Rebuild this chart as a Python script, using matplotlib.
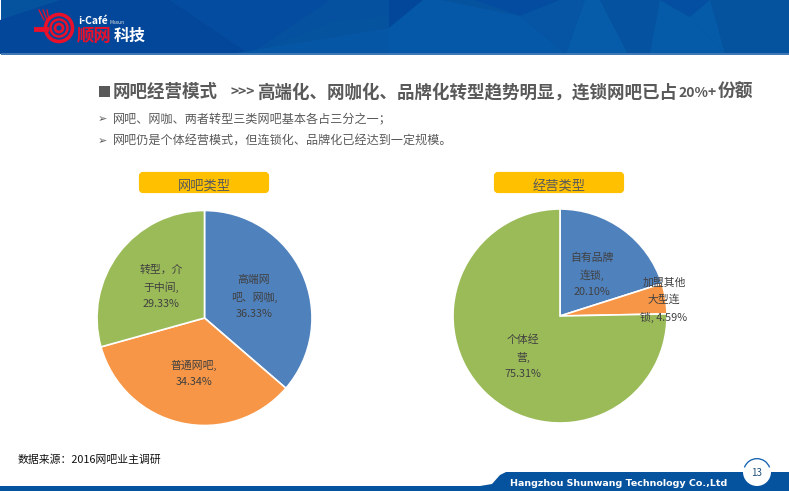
import matplotlib
matplotlib.use("Agg")
import matplotlib.pyplot as plt
from matplotlib.patches import Circle, FancyBboxPatch, Polygon, Rectangle, Wedge

plt.rcParams['font.family'] = ['Noto Sans CJK SC', 'DejaVu Sans']

W, H = 789, 491
BLUE = '#4f81bd'
ORANGE = '#f79646'
GREEN = '#9bbb59'
TEXT = '#404040'
HEADER = '#05529f'

# label, value, colour, label x/y in pixels
left_pie = [
    ("高端网\n吧、网咖,\n36.33%", 36.33, BLUE, 254, 297),
    ("普通网吧,\n34.34%", 34.34, ORANGE, 194, 373),
    ("转型，介\n于中间,\n29.33%", 29.33, GREEN, 161, 287),
]
right_pie = [
    ("自有品牌\n连锁,\n20.10%", 20.10, BLUE, 592, 275),
    ("加盟其他\n大型连\n锁, 4.59%", 4.59, ORANGE, 664, 300),
    ("个体经\n营,\n75.31%", 75.31, GREEN, 523, 357),
]

# header facets: outline in pixels, colour
facets = [
    ([(0, 54), (0, 20), (60, 0), (170, 0), (250, 54)], '#03479b'),
    ([(170, 0), (330, 0), (330, 22), (250, 54)], '#044c9f'),
    ([(250, 54), (330, 22), (400, 14), (420, 0), (330, 0)], '#05509f'),
    ([(230, 54), (330, 38), (389, 28), (389, 54)], '#0557a6'),
    ([(389, 28), (423, 0), (389, 0)], '#03479b'),
    ([(389, 28), (423, 0), (441, 0), (520, 16), (566, 54), (389, 54)], '#0558a7'),
    ([(475, 0), (520, 16), (560, 0)], '#044ca0'),
    ([(520, 16), (560, 0), (585, 0), (566, 54)], '#0555a4'),
    ([(566, 54), (585, 0), (600, 0), (628, 54)], '#065ca8'),
    ([(600, 0), (660, 0), (650, 54), (628, 54)], '#0552a1'),
    ([(650, 54), (660, 0), (690, 17), (725, 54)], '#065ba8'),
    ([(660, 0), (690, 17), (710, 0)], '#044fa1'),
    ([(690, 17), (710, 0), (725, 54)], '#065ba8'),
]


def drawPie(fig, rows, cx, cy, r):
    ax = fig.add_axes([(cx - r) / W, 1 - (cy + r) / H, 2 * r / W, 2 * r / H])
    ax.pie([row[1] for row in rows], colors=[row[2] for row in rows],
           startangle=90, counterclock=False, radius=1,
           wedgeprops={'edgecolor': 'white', 'linewidth': 1.2})
    ax.set_xlim(-1, 1)
    ax.set_ylim(-1, 1)
    ax.axis('off')
    for label, value, color, x, y in rows:
        bg.text(x, y, label, fontsize=7.8, color=TEXT, ha='center', va='center',
                linespacing=1.75, zorder=5)


fig = plt.figure(figsize=(W / 100, H / 100), dpi=100, facecolor='white')

# whole slide in pixel coordinates
bg = fig.add_axes([0, 0, 1, 1], zorder=3)
bg.set_xlim(0, W)
bg.set_ylim(H, 0)
bg.axis('off')
bg.patch.set_alpha(0)

# header band
bg.add_patch(Rectangle((1, 0), W, 54, color=HEADER, lw=0))
for points, color in facets:
    bg.add_patch(Polygon(points, color=color, lw=0))
bg.add_patch(Rectangle((1, 53), W, 1.5, color='#3f78b5', lw=0))

# logo
for rad, lw in [(13.5, 2.6), (8.5, 1.8), (4, 2)]:
    bg.add_patch(Circle((59, 28), rad, fill=False, ec='#e8102a', lw=lw))
bg.plot([36, 46], [29, 29], color='#e8102a', lw=3.5)
for x0, x1 in [(39, 44), (43, 47), (47, 49)]:
    bg.plot([x0, x1], [10, 20], color='#e8102a', lw=0.9)
bg.text(78, 21, "i-Café", fontsize=7.5, color='white', weight='bold', va='center')
bg.text(110, 22, "Maxun", fontsize=3.5, color='#dddddd', va='center')
bg.text(77, 36, "顺网", fontsize=12.5, color='#e8102a', weight='bold', va='center',
        family='Noto Sans CJK SC')
bg.text(114, 36, "科技", fontsize=11.5, color='white', weight='bold', va='center')

# title and bullets
bg.add_patch(Rectangle((99, 86), 11, 11, color='#595959', lw=0))
bg.text(113, 92, "网吧经营模式", fontsize=12.6, color='#595959', weight='bold', va='center')
bg.text(231, 93, ">>>", fontsize=10, color='#595959', weight='bold', va='center')
bg.text(257, 92, "高端化、网咖化、品牌化转型趋势明显，连锁网吧已占", fontsize=12.6,
        color='#595959', weight='bold', va='center')
bg.text(678, 93, "20%+", fontsize=10, color='#595959', weight='bold', va='center')
bg.text(718, 92, "份额", fontsize=12.8, color='#595959', weight='bold', va='center')
for y, line in [(119, "网吧、网咖、两者转型三类网吧基本各占三分之一；"),
                (141, "网吧仍是个体经营模式，但连锁化、品牌化已经达到一定规模。")]:
    bg.text(98, y, "➢", fontsize=8, color='#595959', va='center', family='DejaVu Sans')
    bg.text(113, y, line, fontsize=8.7, color='#595959', va='center')

# yellow tags
for x, y, label, ty in [(139, 172, "网吧类型", 186), (494, 172, "经营类型", 187)]:
    bg.add_patch(FancyBboxPatch((x + 2, y + 2), 126, 17,
                                boxstyle="round,pad=0,rounding_size=2", mutation_aspect=1,
                                fc='#ffc000', ec='#ffc000', lw=3))
    bg.text(x + 65, ty, label, fontsize=9.5, color='#595959', ha='center', va='center')

drawPie(fig, left_pie, 204.5, 318, 107.5)
drawPie(fig, right_pie, 560, 316, 107)

# footer
bg.text(18, 460, "数据来源：2016网吧业主调研", fontsize=7.8, color='#111111', va='center')
bg.add_patch(Rectangle((0, 486), W, 5, color=HEADER, lw=0))
bg.add_patch(Polygon([(480, 486), (492, 484), (500, 475), (506, 472), (789, 472), (789, 491), (480, 491)],
                     color=HEADER, lw=0))
bg.text(510, 483, "Hangzhou Shunwang Technology Co.,Ltd", fontsize=6.8, color='white',
        weight='bold', va='center', family='DejaVu Sans')
bg.add_patch(Circle((757, 472), 14, fc='white', ec='white', lw=0, zorder=4))
bg.add_patch(Wedge((757, 472), 14, 200, 340, width=1.3, fc='#1060b0', lw=0, zorder=4))
bg.text(757, 473, "13", fontsize=7, color='#1f4e79', ha='center', va='center', zorder=5)

fig.savefig('out.png', dpi=100)
